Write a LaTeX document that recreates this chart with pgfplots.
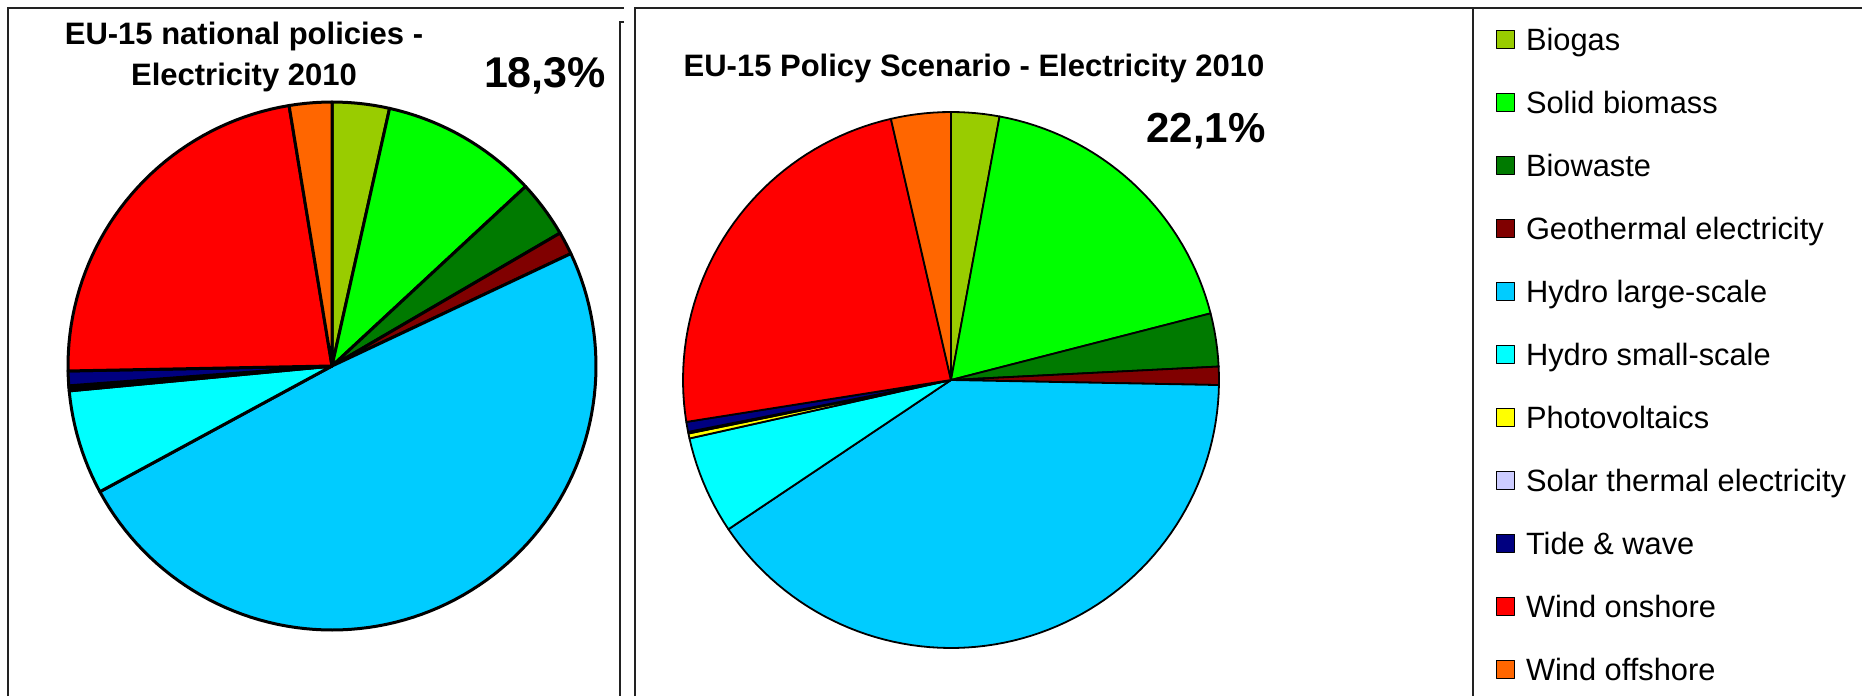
\documentclass[border=0pt]{standalone}
\usepackage{fontspec}
\setmainfont{Liberation Sans}
\usepackage{pgfplots}
\pgfplotsset{compat=1.18}

\definecolor{cBiogas}{HTML}{99CC00}
\definecolor{cSolid}{HTML}{00FF00}
\definecolor{cBiowaste}{HTML}{007A00}
\definecolor{cGeo}{HTML}{800000}
\definecolor{cHydroL}{HTML}{00CCFF}
\definecolor{cHydroS}{HTML}{00FFFF}
\definecolor{cPV}{HTML}{FFFF00}
\definecolor{cSolar}{HTML}{CCCCFF}
\definecolor{cTide}{HTML}{000080}
\definecolor{cWindOn}{HTML}{FF0000}
\definecolor{cWindOff}{HTML}{FF6600}
\definecolor{frame}{HTML}{222222}

% shares in percent, clockwise from 12 o'clock
\def\leftshares{3.5/cBiogas,9.6/cSolid,3.5/cBiowaste,1.4/cGeo,49.1/cHydroL,6.4/cHydroS,0.2/cPV,0.1/cSolar,0.9/cTide,22.7/cWindOn,2.6/cWindOff}
\def\midshares{2.9/cBiogas,18.1/cSolid,3.2/cBiowaste,1.1/cGeo,40.3/cHydroL,5.9/cHydroS,0.3/cPV,0.1/cSolar,0.6/cTide,23.9/cWindOn,3.6/cWindOff}

% #1 shares, #2 cx, #3 cy, #4 radius, #5 style
\newcommand{\piechart}[5]{%
  \gdef\cum{0}%
  \foreach \v/\c in #1 {%
    \pgfmathsetmacro\a{\cum*3.6}%
    \pgfmathsetmacro\b{(\cum+\v)*3.6}%
    \pgfmathtruncatemacro\n{max(2,ceil((\b-\a)/2)+1)}%
    \edef\tmp{\noexpand\addplot[fill=\c, draw=black, line join=round, #5, domain=\a:\b, samples=\n] ({#2+#4*sin(x)},{#3-#4*cos(x)}) -- (axis cs:#2,#3) -- cycle;}%
    \tmp
    \pgfmathsetmacro\newcum{\cum+\v}%
    \xdef\cum{\newcum}%
  }%
}

\begin{document}
\begin{tikzpicture}
\begin{axis}[
  name=main,
  width=931pt, height=348pt, scale only axis,
  xmin=0, xmax=1862, ymin=0, ymax=696, y dir=reverse,
  hide axis, clip=false,
  legend entries={Biogas,Solid biomass,Biowaste,Geothermal electricity,Hydro large-scale,Hydro small-scale,Photovoltaics,Solar thermal electricity,Tide \& wave,Wind onshore,Wind offshore},
  legend image code/.code={\draw[#1, line width=0.5pt, draw=black] (0pt,-4.5pt) rectangle (9pt,4.5pt);},
  legend cell align=left,
  legend style={at={(axis cs:1496,28.3)}, anchor=north west, draw=none, fill=none,
    inner sep=0pt, outer sep=0pt, row sep=20.5pt,
    font=\fontsize{15.4}{18}\selectfont,
    nodes={inner sep=0pt, text height=11pt, text depth=0pt},
    /tikz/every odd column/.append style={column sep=5.5pt}},
]
\piechart{\leftshares}{332}{366}{264}{line width=1.5pt}
\piechart{\midshares}{951}{380}{268}{line width=0.9pt, forget plot}

% panel frames
\addplot[forget plot, frame, line width=1pt] coordinates {(8,696) (8,8) (624,8)};
\addplot[forget plot, frame, line width=1pt] coordinates {(624,22) (620,22) (620,696)};
\addplot[forget plot, frame, line width=1pt] coordinates {(635,696) (635,8) (1862,8)};
\addplot[forget plot, frame, line width=1pt] coordinates {(1473,8) (1473,696)};

% titles
\node[anchor=base, font=\bfseries\fontsize{15.5}{18}\selectfont] at (axis cs:244,44) {EU-15 national policies -};
\node[anchor=base, font=\bfseries\fontsize{15.5}{18}\selectfont] at (axis cs:244,85) {Electricity 2010};
\node[anchor=base, font=\bfseries\fontsize{15.5}{18}\selectfont] at (axis cs:974,76) {EU-15 Policy Scenario - Electricity 2010};
\node[anchor=base, font=\bfseries\fontsize{21.5}{24}\selectfont] at (axis cs:545,87) {18,3\%};
\node[anchor=base, font=\bfseries\fontsize{21}{24}\selectfont] at (axis cs:1206,142) {22,1\%};
\end{axis}
\pgfresetboundingbox
\path[use as bounding box] (main.south west) rectangle (main.north east);
\end{tikzpicture}
\end{document}
